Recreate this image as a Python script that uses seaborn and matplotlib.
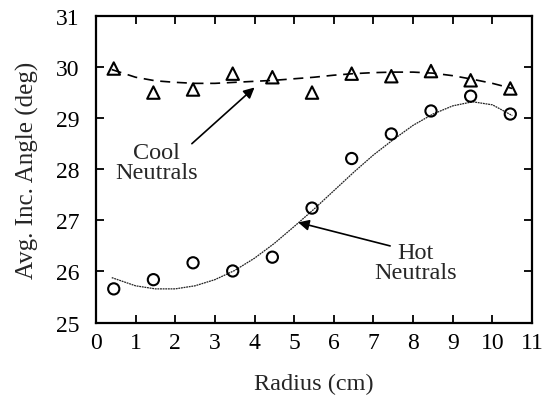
import matplotlib
matplotlib.use("Agg")
import matplotlib.pyplot as plt
import seaborn as sns
import pandas as pd

# Measured points
radius_pts = [0.45, 1.45, 2.45, 3.45, 4.45, 5.45, 6.45, 7.45, 8.45, 9.45, 10.45]
cool_pts = [29.97, 29.50, 29.56, 29.87, 29.80, 29.50, 29.87, 29.82, 29.92, 29.74, 29.58]
hot_pts = [25.66, 25.84, 26.17, 26.01, 26.28, 27.24, 28.21, 28.69, 29.14, 29.43, 29.08]

# Fitted curves
curve_x = [0.4, 1.0, 1.5, 2.0, 2.5, 3.0, 3.5, 4.0, 4.5, 5.0, 5.5, 6.0, 6.5, 7.0, 7.5, 8.0, 8.5, 9.0, 9.5, 10.0, 10.5]
cool_curve = [29.95, 29.80, 29.73, 29.70, 29.68, 29.68, 29.70, 29.72, 29.74, 29.77, 29.80, 29.84, 29.87, 29.89, 29.90, 29.90, 29.88, 29.83, 29.76, 29.68, 29.58]
hot_curve = [25.88, 25.72, 25.66, 25.66, 25.72, 25.84, 26.02, 26.26, 26.55, 26.88, 27.22, 27.58, 27.94, 28.28, 28.58, 28.86, 29.08, 29.24, 29.32, 29.26, 29.05]

x_ticks = list(range(0, 12))
y_ticks = list(range(25, 32))

sns.set_style("ticks")
plt.rcParams["font.family"] = ["Liberation Serif", "DejaVu Serif"]

fig = plt.figure(figsize=(5.48, 4.02), dpi=100)
ax = fig.add_axes([0.175, 0.195, 0.796, 0.763])

curves = pd.DataFrame({"x": curve_x, "cool": cool_curve, "hot": hot_curve})
pts = pd.DataFrame({"x": radius_pts, "cool": cool_pts, "hot": hot_pts})

sns.lineplot(data=curves, x="x", y="cool", ax=ax, color="black", lw=1.2,
             linestyle=(0, (6, 4)))
sns.lineplot(data=curves, x="x", y="hot", ax=ax, color="#222222", lw=0.9,
             linestyle=(0, (1.5, 0.6)))
sns.scatterplot(data=pts, x="x", y="cool", ax=ax, marker="^", s=80,
                facecolor="none", edgecolor="black", linewidth=1.5, zorder=3)
sns.scatterplot(data=pts, x="x", y="hot", ax=ax, marker="o", s=65,
                facecolor="none", edgecolor="black", linewidth=1.5, zorder=3)

ax.set_xlim(0, 11)
ax.set_ylim(25, 31)
ax.set_xticks(x_ticks)
ax.set_yticks(y_ticks)
ax.tick_params(direction="in", length=6, width=1.3, top=True, right=True,
               labelsize=17, colors="black")
ax.tick_params(axis="x", pad=7)
ax.tick_params(axis="y", pad=12)
for s in ax.spines.values():
    s.set_linewidth(1.6)
    s.set_color("black")
    s.set_visible(True)

ax.set_xlabel("Radius (cm)", fontsize=17.5, labelpad=14)
ax.set_ylabel("Avg. Inc. Angle (deg)", fontsize=18, labelpad=12)

arrow = dict(arrowstyle="-|>", color="black", lw=1.2, shrinkA=0, shrinkB=0,
             mutation_scale=16)
ax.text(1.53, 28.13, "Cool\nNeutrals", ha="center", va="center",
        fontsize=17.5, linespacing=0.95)
ax.annotate("", xy=(4.0, 29.6), xytext=(2.42, 28.5), arrowprops=arrow)
ax.text(8.06, 26.18, "Hot\nNeutrals", ha="center", va="center",
        fontsize=17.5, linespacing=0.95)
ax.annotate("", xy=(5.1, 26.96), xytext=(7.42, 26.5), arrowprops=arrow)

fig.savefig("out.png", dpi=100)
